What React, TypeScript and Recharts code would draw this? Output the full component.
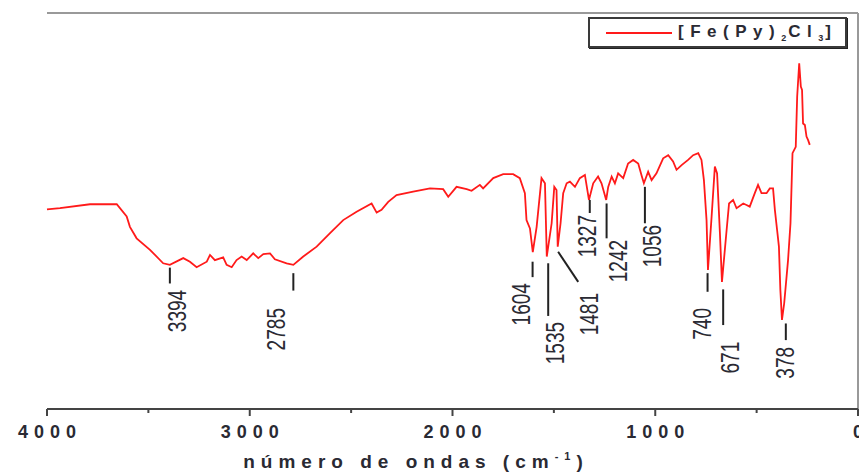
import React from "react";
import {
  ComposedChart,
  Line,
  Scatter,
  XAxis,
  YAxis,
  ReferenceLine,
} from "recharts";

// IR spectrum, wavenumber (cm-1) vs transmittance (arbitrary %)
const wavenumbers = [
  4000, 3936, 3788, 3656, 3607, 3591, 3558, 3492, 3427, 3394, 3328, 3295, 3262,
  3212, 3196, 3172, 3131, 3114, 3089, 3065, 3040, 3015, 2983, 2958, 2933, 2900,
  2876, 2818, 2785, 2736, 2670, 2604, 2539, 2473, 2399, 2374, 2350, 2317, 2276,
  2194, 2111, 2046, 2021, 1980, 1930, 1906, 1865, 1849, 1799, 1750, 1701, 1668,
  1643, 1635, 1618, 1604, 1585, 1561, 1544, 1535, 1511, 1498, 1487, 1481, 1467,
  1454, 1437, 1421, 1396, 1372, 1347, 1327, 1306, 1282, 1265, 1242, 1232, 1215,
  1199, 1183, 1158, 1134, 1109, 1084, 1066, 1056, 1035, 1018, 994, 961, 936, 912,
  895, 870, 838, 813, 788, 772, 760, 747, 740, 722, 706, 695, 681, 671, 648, 636,
  616, 599, 566, 550, 534, 509, 493, 476, 451, 435, 419, 410, 399, 390, 383, 375,
  364, 345, 333, 323, 307, 300, 290, 282, 276, 271, 262, 254, 246, 238,
];
const transmittance = [
  50.4, 50.7, 51.7, 51.7, 48.6, 46.0, 43.1, 40.2, 36.8, 36.4, 38.1, 37.2, 35.8,
  37.2, 38.9, 37.6, 38.3, 36.4, 35.8, 37.6, 38.5, 37.6, 39.3, 38.1, 39.1, 39.3,
  37.8, 36.8, 36.4, 38.5, 41.0, 44.4, 47.7, 49.8, 51.9, 49.6, 50.3, 52.3, 54.0,
  54.9, 55.7, 55.5, 53.6, 56.1, 55.5, 55.1, 56.6, 55.7, 58.3, 59.3, 59.3, 58.3,
  54.5, 47.7, 45.6, 39.6, 46.0, 58.3, 57.0, 38.5, 46.9, 56.1, 55.3, 41.0, 46.9,
  54.5, 57.0, 57.4, 56.1, 58.3, 59.1, 52.8, 57.0, 58.7, 57.0, 52.8, 56.1, 58.7,
  57.0, 59.5, 58.3, 62.0, 62.9, 62.0, 58.7, 57.0, 59.9, 57.8, 59.5, 63.3, 64.1,
  62.5, 60.4, 61.6, 62.9, 64.1, 64.6, 62.9, 57.8, 47.7, 35.1, 48.6, 61.2, 59.5,
  44.4, 32.1, 45.2, 51.9, 52.8, 50.7, 51.9, 51.5, 51.1, 54.5, 56.6, 54.5, 54.5,
  55.7, 55.7, 50.3, 45.2, 41.0, 30.1, 22.5, 26.7, 37.6, 46.9, 64.6, 66.2, 78.9,
  87.3, 81.4, 80.6, 72.1, 71.7, 68.8, 67.9, 66.7,
];

// peak annotations: marker segment (start/end) and rotated label (centre wn, top T)
const peakLabels = ["3394", "2785", "1604", "1535", "1481", "1327", "1242", "1056", "740", "671", "378"];
const markerStartWn = [3394, 2785, 1605, 1528, 1479, 1323, 1240, 1051, 742, 665, 356];
const markerEndWn = [3394, 2785, 1605, 1528, 1380, 1323, 1240, 1051, 742, 665, 356];
const markerTop = [35.7, 34.3, 37.2, 36.8, 39.7, 52.8, 51.9, 56.1, 34.3, 30.2, 21.6];
const markerBottom = [31.7, 29.9, 33.3, 23.5, 32.1, 49.5, 43.1, 46.9, 29.6, 21.2, 17.4];
const labelWn = [3360, 2871, 1663, 1495, 1327, 1335, 1182, 1018, 768, 632, 361];
const labelTop = [30.1, 25.5, 31.8, 22.0, 29.3, 49.0, 42.7, 46.5, 25.5, 17.0, 15.7];

const xTicks = [0, 500, 1000, 1500, 2000, 2500, 3000, 3500, 4000];

const spectrum = wavenumbers.map((wn, i) => ({ wn, t: transmittance[i] }));
const labels = peakLabels.map((text, i) => ({ wn: labelWn[i], t: labelTop[i], text }));

const FONT = "'Liberation Sans', Arial, sans-serif";
const INK = "#2a2a33";
const RED = "#ff1a1a";

const XTick = (props: any) => {
  const { x, y, payload } = props;
  const major = payload.value % 1000 === 0;
  return (
    <g>
      <line x1={x} x2={x} y1={y} y2={y + (major ? 7 : 4)} stroke="#444" strokeWidth={2} />
      {major && (
        <text
          x={x + 3}
          y={y + 29}
          textAnchor="middle"
          fontFamily={FONT}
          fontWeight="bold"
          fontSize={18}
          letterSpacing={6}
          fill={INK}
        >
          {payload.value}
        </text>
      )}
    </g>
  );
};

const PeakLabel = (props: any) => {
  const { cx, cy, payload } = props;
  const len = payload.text.length * 10.6;
  return (
    <text
      transform={`translate(${cx + 9}, ${cy}) rotate(-90)`}
      textAnchor="end"
      fontFamily={FONT}
      fontSize={25}
      textLength={len}
      lengthAdjust="spacingAndGlyphs"
      fill={INK}
    >
      {payload.text}
    </text>
  );
};

const AxisTitle = (props: any) => {
  const { viewBox } = props;
  return (
    <text
      x={viewBox.x + viewBox.width * 0.455}
      y={viewBox.y + 59}
      textAnchor="middle"
      fontFamily={FONT}
      fontWeight="bold"
      fontSize={19}
      letterSpacing={6}
      fill={INK}
    >
      número de ondas (cm
      <tspan fontSize={11} dy={-8}>-1</tspan>
      <tspan dy={8}>)</tspan>
    </text>
  );
};

const LegendBox = () => (
  <div
    style={{
      position: "absolute",
      left: 588,
      top: 17,
      boxSizing: "border-box",
      width: 259,
      height: 31,
      border: "2px solid #3a3a3a",
      boxShadow: "1px 1px 0 #222",
      background: "#fff",
      display: "flex",
      alignItems: "center",
      fontFamily: FONT,
      fontWeight: "bold",
      fontSize: 17,
      letterSpacing: 6.5,
      color: INK,
      whiteSpace: "nowrap",
    }}
  >
    <span style={{ display: "inline-block", width: 66, height: 2, background: RED, marginLeft: 16, marginRight: 6 }} />
    <span>
      [Fe(Py)<sub style={{ fontSize: 9, letterSpacing: 2 }}>2</sub>Cl<sub style={{ fontSize: 9, letterSpacing: 2 }}>3</sub>]
    </span>
  </div>
);

export default function App() {
  return (
    <div style={{ position: "absolute", left: 0, top: 0, width: 859, height: 473, background: "#fff" }}>
      <ComposedChart width={859} height={473} margin={{ top: 13, right: 1, bottom: 34, left: 47 }}>
        <XAxis
          type="number"
          dataKey="wn"
          domain={[0, 4000]}
          reversed
          ticks={xTicks}
          interval={0}
          tickSize={0}
          tickMargin={0}
          tickLine={false}
          tick={<XTick />}
          height={30}
          axisLine={{ stroke: "#444", strokeWidth: 2 }}
          label={<AxisTitle />}
        />
        <YAxis
          type="number"
          domain={[0, 100]}
          width={0}
          tick={false}
          tickLine={false}
          axisLine={{ stroke: "#555", strokeWidth: 2.5 }}
        />
        <ReferenceLine y={100} stroke="#999" strokeWidth={2} />
        <ReferenceLine x={0} stroke="#999" strokeWidth={2} />
        <Line
          data={spectrum}
          dataKey="t"
          name="[Fe(Py)2Cl3]"
          type="linear"
          stroke={RED}
          strokeWidth={1.8}
          dot={false}
          isAnimationActive={false}
        />
        {peakLabels.map((p, i) => (
          <ReferenceLine
            key={p}
            segment={[
              { x: markerStartWn[i], y: markerTop[i] },
              { x: markerEndWn[i], y: markerBottom[i] },
            ]}
            stroke="#222"
            strokeWidth={2}
          />
        ))}
        <Scatter
          data={labels}
          dataKey="t"
          shape={<PeakLabel />}
          legendType="none"
          isAnimationActive={false}
        />
      </ComposedChart>
      <LegendBox />
    </div>
  );
}
